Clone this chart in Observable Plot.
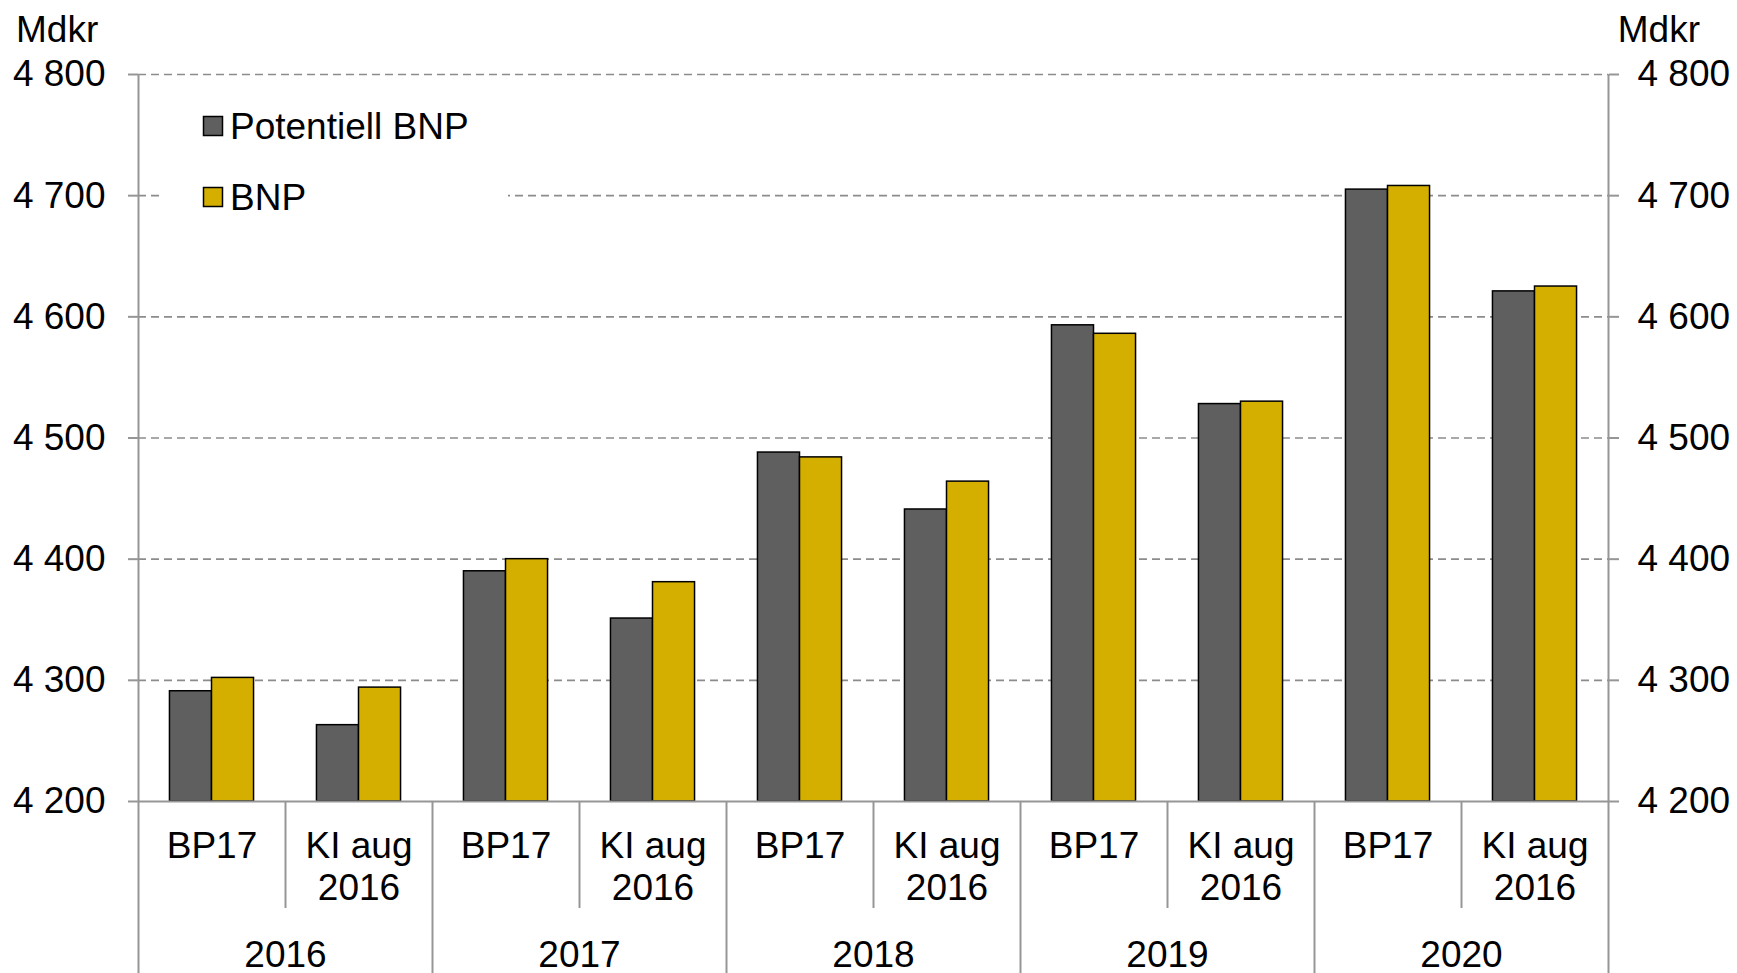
<!DOCTYPE html>
<html><head><meta charset="utf-8">
<script src="https://cdn.jsdelivr.net/npm/d3@7"></script>
<script src="https://cdn.jsdelivr.net/npm/@observablehq/plot@0.6"></script>
<style>
html,body{margin:0;padding:0;background:#fff;}
#chart{position:relative;width:1737px;height:973px;overflow:hidden;}
</style></head><body><div id="chart"></div>
<script>
// ---- data ----
const years = ["2016", "2017", "2018", "2019", "2020"];
const vintages = ["BP17", "KI aug\n2016"];
const seriesNames = ["Potentiell BNP", "BNP"];
const potentiellBNP = [4291, 4263, 4390, 4351, 4488, 4441, 4593, 4528, 4705, 4621];
const bnp = [4302, 4294, 4400, 4381, 4484, 4464, 4586, 4530, 4708, 4625];
const yTicks = [4200, 4300, 4400, 4500, 4600, 4700, 4800];
const colors = ["#5f5f5f", "#d4af00"];
const unitLabel = "Mdkr";

// ---- table ----
const rows = [];
years.forEach((yr, i) => vintages.forEach((v, j) => {
  const k = i * 2 + j;
  rows.push({key: yr + "|" + j, year: yr, vintage: v, pot: potentiellBNP[k], bnp: bnp[k]});
}));

const W = 1737, H = 973, ML = 138, MR = 129, MT = 74, MB = 172;
const bw = (W - ML - MR) / rows.length;
const barW = bw * 0.286;
const FONT = "'Liberation Sans', Arial, sans-serif";
const FS = 37;
const AXC = "#969696";
const fmt = v => d3.format(",")(v).replace(/,/g, " ");

const groupFirst = years.map((y, i) => rows[2 * i].key);
const groupSecond = years.map((y, i) => rows[2 * i + 1].key);

const plot = Plot.plot({
  width: W, height: H,
  marginLeft: ML, marginRight: MR, marginTop: MT, marginBottom: MB,
  style: {fontFamily: FONT, fontSize: FS + "px", color: "#000", background: "#fff"},
  x: {type: "band", domain: rows.map(d => d.key), padding: 0, axis: null},
  y: {domain: [yTicks[0], yTicks[yTicks.length - 1]], axis: null},
  marks: [
    Plot.ruleY(yTicks.slice(1), {stroke: "#8c8c8c", strokeWidth: 1.6, strokeDasharray: "8,5"}),
    Plot.barY(rows, {x: "key", y1: yTicks[0], y2: "pot", fill: colors[0], stroke: "#000", strokeWidth: 1.5,
      insetLeft: bw / 2 - barW, insetRight: bw / 2}),
    Plot.barY(rows, {x: "key", y1: yTicks[0], y2: "bnp", fill: colors[1], stroke: "#000", strokeWidth: 1.5,
      insetLeft: bw / 2, insetRight: bw / 2 - barW}),
    Plot.ruleY([yTicks[0]], {stroke: AXC, strokeWidth: 2}),
    Plot.axisY(yTicks, {anchor: "left", tickSize: 10, tickPadding: 23, tickFormat: fmt, label: null,
      stroke: AXC, strokeWidth: 2, fill: "#000", fontSize: FS}),
    Plot.axisY(yTicks, {anchor: "right", tickSize: 10, tickPadding: 19, tickFormat: fmt, label: null,
      stroke: AXC, strokeWidth: 2, fill: "#000", fontSize: FS}),
    // left & right outer lines, extended to bottom
    Plot.ruleX([rows[0].key], {x: d => d, dx: -bw / 2, stroke: AXC, strokeWidth: 2, insetBottom: -MB}),
    Plot.ruleX([rows[rows.length - 1].key], {x: d => d, dx: bw / 2, stroke: AXC, strokeWidth: 2, insetBottom: -MB}),
    // group separators
    Plot.ruleX(groupFirst.slice(1), {x: d => d, dx: -bw / 2, stroke: AXC, strokeWidth: 2,
      insetTop: H - MT - MB, insetBottom: -MB}),
    // sub separators
    Plot.ruleX(groupSecond, {x: d => d, dx: -bw / 2, stroke: AXC, strokeWidth: 2,
      insetTop: H - MT - MB, insetBottom: -107}),
    // category labels
    Plot.text(rows, {x: "key", text: "vintage", frameAnchor: "bottom", lineAnchor: "top",
      dy: 27, lineHeight: 1.135, fontSize: FS, fill: "#000"}),
    // year labels
    Plot.text(years, {x: (d, i) => groupSecond[i], text: d => d, dx: -bw / 2, frameAnchor: "bottom",
      lineAnchor: "top", dy: 139, fontSize: FS, fill: "#000"})
  ]
});

document.getElementById("chart").appendChild(plot);

// ---- unit labels & legend ----
const svg = d3.select(plot);
svg.append("text").attr("x", 16).attr("y", 42).attr("text-anchor", "start").attr("font-family", FONT)
  .attr("font-size", FS).attr("fill", "#000").text(unitLabel);
svg.append("text").attr("x", 1700).attr("y", 42).attr("text-anchor", "end").attr("font-family", FONT)
  .attr("font-size", FS).attr("fill", "#000").text(unitLabel);

const lg = svg.append("g");
lg.append("rect").attr("x", 160).attr("y", 92).attr("width", 348).attr("height", 135).attr("fill", "#fff");
seriesNames.forEach((name, i) => {
  const cy = 126 + i * 71;
  lg.append("rect").attr("x", 203.5).attr("y", cy - 9.5).attr("width", 19).attr("height", 19)
    .attr("fill", colors[i]).attr("stroke", "#000").attr("stroke-width", 1.5);
  lg.append("text").attr("x", 230).attr("y", cy + 12.5).attr("text-anchor", "start").attr("font-family", FONT)
    .attr("font-size", FS).attr("fill", "#000").text(name);
});
</script>
</body></html>
